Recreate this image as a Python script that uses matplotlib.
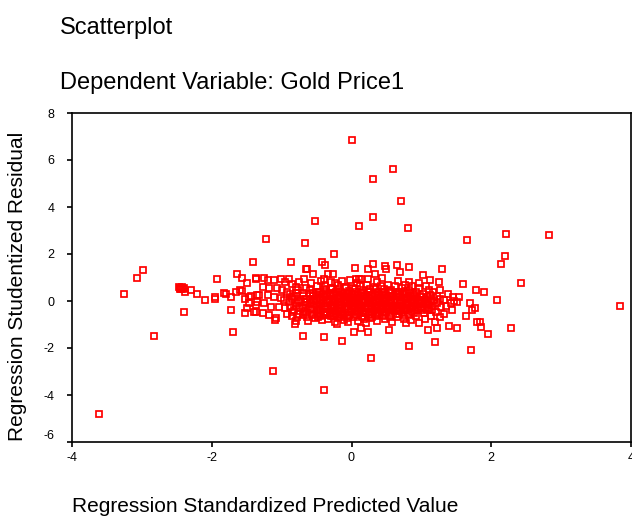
import matplotlib
matplotlib.use("Agg")
import matplotlib.pyplot as plt
import numpy as np

plt.rcParams['font.family'] = ['Liberation Sans', 'DejaVu Sans']
plt.rcParams['axes.unicode_minus'] = False

title_main = "Scatterplot"
title_sub = "Dependent Variable: Gold Price1"
x_label = "Regression Standardized Predicted Value"
y_label = "Regression Studentized Residual"
x_ticks = [-4, -2, 0, 2, 4]
y_ticks = [-6, -4, -2, 0, 2, 4, 6, 8]

# ---- left tail (predicted, residual) ----
left_pred = [-3.61, -3.25, -3.07, -2.99, -2.82, -2.47, -2.45, -2.43, -2.41, -2.44, -2.39, -2.46,
             -2.38, -2.30, -2.21, -2.10, -2.39, -1.96, -1.96, -1.93, -1.83, -1.79, -1.72, -1.64,
             -1.66, -1.73, -1.70, -1.56, -1.50, -1.59, -1.56, -1.53, -1.47, -1.46, -1.44, -1.50,
             -1.53, -1.41, -1.37, -1.37, -1.39, -1.35, -1.23, -1.13]
left_resid = [-4.82, 0.30, 0.96, 1.34, -1.48, 0.60, 0.55, 0.58, 0.52, 0.50, 0.56, 0.52,
              0.37, 0.47, 0.30, 0.04, -0.47, 0.19, 0.08, 0.93, 0.33, 0.30, 0.19, 1.13,
              0.40, -0.38, -1.31, 0.96, 0.75, 0.47, 0.44, 0.10, -0.10, 0.18, 0.23, -0.30,
              -0.50, 1.65, 0.93, -0.17, -0.48, 0.25, 2.65, -2.96]

# ---- upper outliers ----
upper_pred = [0.00, 0.59, 0.31, 0.71, 0.31, 0.11, 0.81, -0.52, -0.67, -0.25, 1.65, 2.21,
              2.83, 2.20, 2.14, -0.87, -0.42, -0.38, -0.65, 0.31, 0.65, 0.82, 0.48, 0.05,
              1.30, 0.24, 0.33, -0.64, -0.55, -0.33, -0.26, 0.49, 0.69, 1.03, 1.12, 0.96,
              0.82, 1.25, 1.59, 2.43, -0.40, -0.24, 0.06, 0.11]
upper_resid = [6.87, 5.61, 5.19, 4.27, 3.59, 3.21, 3.09, 3.42, 2.48, 1.99, 2.58, 2.83,
               2.79, 1.90, 1.56, 1.65, 1.67, 1.55, 1.38, 1.59, 1.52, 1.44, 1.47, 1.41,
               1.38, 1.35, 1.17, 1.35, 1.13, 1.14, 1.14, 1.38, 1.24, 1.10, 0.89, 0.78,
               0.82, 0.82, 0.72, 0.75, 0.93, 0.75, 0.93, 0.93]

# ---- lower outliers and right tail ----
lower_pred = [-0.40, -0.70, -0.40, -0.13, -0.81, 0.28, -0.21, 0.04, 0.24, 0.13, 1.71, 1.19,
              0.82, 0.54, 1.39, 1.23, 1.10, 1.51, 1.80, 1.84, 1.86, 1.95, 2.28, 3.84,
              2.08, 1.78, 1.89, 1.45, 1.54, 1.51, 1.69, 1.77, 1.73, 1.64, 1.11, 1.26]
lower_resid = [-3.78, -1.48, -1.53, -1.72, -0.97, -2.42, -0.98, -1.32, -1.32, -1.15, -2.07, -1.75,
               -1.90, -1.23, -1.08, -1.15, -1.23, -1.14, -0.91, -0.91, -1.11, -1.41, -1.15, -0.21,
               0.04, 0.47, 0.37, 0.19, 0.19, -0.06, -0.10, -0.31, -0.38, -0.62, 0.47, 0.47]

# ---- left part of the main cloud ----
cloud_left_pred = [-1.37, -1.25, -1.20, -1.11, -1.01, -1.27, -1.18, -1.06, -0.99, -1.32, -1.20,
                   -1.11, -1.01, -1.35, -1.25, -1.15, -1.04, -1.37, -1.27, -1.18, -1.08, -1.10,
                   -0.95, -0.90, -0.85, -0.80, -0.93, -0.88, -0.82, -0.76, -0.70, -0.65, -0.60,
                   -0.55, -0.97, -0.90, -0.85, -0.78, -0.72, -0.66, -0.60, -0.54, -0.95, -0.88,
                   -0.82, -0.75, -0.68, -0.62, -0.56, -0.93, -0.85, -0.78, -0.70, -0.63, -0.57,
                   -0.52, -0.75, -0.68, -0.58, -0.62, -0.80]
cloud_left_resid = [0.96, 0.99, 0.89, 0.89, 0.93, 0.61, 0.54, 0.54, 0.47, 0.25, 0.25,
                    0.19, 0.11, -0.03, -0.10, -0.24, -0.24, -0.45, -0.52, -0.59, -0.73, -0.80,
                    0.80, 0.95, 0.72, 0.60, 0.40, 0.30, 0.20, 0.45, 0.35, 0.55, 0.30,
                    0.20, 0.05, -0.05, 0.10, -0.10, 0.05, -0.05, 0.10, -0.02, -0.30, -0.25,
                    -0.40, -0.30, -0.45, -0.25, -0.40, -0.55, -0.62, -0.70, -0.60, -0.68, -0.55,
                    -0.72, 0.80, 0.95, 0.75, -0.85, -0.85]

# ---- centre of the main cloud ----
cloud_mid_pred = [-0.50, -0.48, -0.47, -0.49, -0.46, -0.50, -0.45, -0.48, -0.44, -0.42, -0.41, -0.43, -0.40, -0.42,
                  -0.38, -0.37, -0.36, -0.35, -0.38, -0.34, -0.37, -0.33, -0.31, -0.32, -0.30, -0.31, -0.30,
                  -0.28, -0.27, -0.26, -0.28, -0.25, -0.27, -0.24, -0.22, -0.21, -0.23, -0.20, -0.22, -0.20,
                  -0.18, -0.17, -0.16, -0.18, -0.15, -0.17, -0.12, -0.11, -0.13, -0.10, -0.12, -0.14, -0.11,
                  -0.08, -0.07, -0.06, -0.08, -0.05, -0.07, -0.03, -0.02, -0.04, -0.01, -0.03, -0.02, -0.05,
                  0.02, 0.03, 0.04, 0.02, 0.05, 0.03, 0.07, 0.08, 0.06, 0.09, 0.07, 0.08, 0.09,
                  0.12, 0.13, 0.11, 0.14, 0.12, 0.15, 0.17, 0.18, 0.16, 0.19, 0.17, 0.18, 0.14,
                  0.22, 0.23, 0.21, 0.24, 0.22, 0.25, 0.27, 0.28, 0.26, 0.29, 0.27, 0.28, 0.24, 0.21,
                  0.32, 0.33, 0.31, 0.34, 0.32, 0.35, 0.37, 0.38, 0.36, 0.39, 0.37, 0.38, 0.36,
                  0.42, 0.43, 0.41, 0.44, 0.42, 0.45, 0.47, 0.48, 0.46, 0.49, 0.47, 0.48, 0.44]
cloud_mid_resid = [0.62, 0.40, 0.18, -0.05, -0.22, -0.38, -0.55, -0.70, 0.85, 0.30, 0.05, -0.12, -0.45, -0.82,
                   0.65, 0.45, 0.20, -0.02, -0.20, -0.35, -0.60, -0.75, 0.35, 0.10, -0.15, -0.50, 0.80,
                   0.55, 0.25, 0.00, -0.25, -0.42, -0.65, -0.88, 0.40, 0.12, -0.10, -0.30, -0.55, 0.70,
                   0.50, 0.22, -0.05, -0.20, -0.45, -0.70, 0.35, 0.05, -0.15, -0.35, -0.60, 0.85, -0.82,
                   0.60, 0.25, 0.00, -0.25, -0.48, -0.72, 0.42, 0.10, -0.12, -0.32, -0.58, 0.90, -0.90,
                   0.55, 0.28, 0.02, -0.22, -0.42, -0.68, 0.40, 0.12, -0.10, -0.30, -0.55, 0.78, -0.85,
                   0.62, 0.35, 0.08, -0.18, -0.40, -0.62, 0.45, 0.20, -0.05, -0.28, -0.50, -0.78, 0.92,
                   0.70, 0.38, 0.15, -0.08, -0.30, -0.55, 0.52, 0.25, 0.00, -0.20, -0.45, -0.72, 0.95, -0.92,
                   0.60, 0.30, 0.05, -0.15, -0.38, -0.62, 0.82, 0.40, 0.15, -0.05, -0.28, -0.52, -0.85,
                   0.65, 0.35, 0.10, -0.12, -0.35, -0.58, 0.50, 0.22, -0.02, -0.25, -0.48, -0.78, 1.00]

# ---- right part of the main cloud ----
cloud_right_pred = [0.52, 0.53, 0.51, 0.54, 0.52, 0.55, 0.57, 0.58, 0.56, 0.59, 0.57, 0.58,
                    0.62, 0.63, 0.61, 0.64, 0.62, 0.65, 0.67, 0.68, 0.66, 0.69, 0.67, 0.68,
                    0.72, 0.73, 0.71, 0.74, 0.72, 0.75, 0.77, 0.78, 0.76, 0.79, 0.77, 0.78,
                    0.82, 0.83, 0.81, 0.84, 0.82, 0.87, 0.88, 0.86, 0.89, 0.87, 0.85,
                    0.92, 0.93, 0.91, 0.94, 0.92, 0.97, 0.98, 0.96, 0.99, 0.97,
                    1.02, 1.03, 1.01, 1.04, 1.07, 1.08, 1.06, 1.09, 1.05,
                    1.12, 1.13, 1.11, 1.14, 1.17, 1.18, 1.16, 1.19,
                    1.22, 1.23, 1.21, 1.27, 1.28, 1.26,
                    1.32, 1.35, 1.33, 1.38, 1.42, 1.44, 1.47]
cloud_right_resid = [0.70, 0.38, 0.12, -0.10, -0.32, -0.60, 0.48, 0.20, -0.05, -0.28, -0.50, -0.90,
                     0.62, 0.30, 0.05, -0.18, -0.42, -0.70, 0.85, 0.40, 0.15, -0.08, -0.30, -0.55,
                     0.55, 0.25, 0.00, -0.22, -0.48, -0.75, 0.70, 0.35, 0.10, -0.15, -0.38, -0.95,
                     0.45, 0.18, -0.08, -0.30, -0.58, 0.62, 0.28, 0.02, -0.20, -0.45, -0.80,
                     0.40, 0.10, -0.15, -0.38, -0.65, 0.55, 0.20, -0.05, -0.28, -0.95,
                     0.30, 0.00, -0.25, -0.50, 0.65, 0.15, -0.12, -0.40, -0.75,
                     0.25, -0.05, -0.30, -0.62, 0.40, 0.05, -0.20, -0.90,
                     0.20, -0.10, -0.45, 0.10, -0.25, -0.70,
                     0.05, -0.20, -0.56, 0.30, -0.10, -0.40, 0.00]

# ---- dense core of the cloud (overlapping points) ----
core_pred = [-0.85, -0.85, -0.80, -0.80, -0.75, -0.75, -0.70, -0.70, -0.65, -0.65, -0.65,
             -0.60, -0.60, -0.60, -0.55, -0.55, -0.55, -0.50, -0.50, -0.50, -0.50,
             -0.45, -0.45, -0.45, -0.45, -0.40, -0.40, -0.40, -0.40, -0.35, -0.35, -0.35, -0.35,
             -0.30, -0.30, -0.30, -0.30, -0.25, -0.25, -0.25, -0.25, -0.20, -0.20, -0.20, -0.20,
             -0.15, -0.15, -0.15, -0.15, -0.10, -0.10, -0.10, -0.10, -0.05, -0.05, -0.05, -0.05,
             0.00, 0.00, 0.00, 0.00, 0.05, 0.05, 0.05, 0.05, 0.10, 0.10, 0.10, 0.10,
             0.15, 0.15, 0.15, 0.15, 0.20, 0.20, 0.20, 0.20, 0.25, 0.25, 0.25, 0.25,
             0.30, 0.30, 0.30, 0.30, 0.35, 0.35, 0.35, 0.35, 0.40, 0.40, 0.40, 0.40,
             0.45, 0.45, 0.45, 0.45, 0.50, 0.50, 0.50, 0.50, 0.55, 0.55, 0.55, 0.55,
             0.60, 0.60, 0.60, 0.65, 0.65, 0.65, 0.65, 0.70, 0.70, 0.70,
             0.75, 0.75, 0.75, 0.75, 0.80, 0.80, 0.80, 0.85, 0.85, 0.85,
             0.90, 0.90, 0.90, 0.95, 0.95, 1.00, 1.00, 1.00, 1.05, 1.05, 1.10, 1.10, 1.15, 1.15]
core_resid = [0.15, -0.45, -0.20, 0.35, 0.00, -0.55, 0.20, -0.30, -0.15, 0.10, -0.50,
              0.45, -0.35, -0.10, 0.05, -0.60, 0.35, 0.25, -0.15, -0.50, 0.05,
              0.40, -0.35, 0.10, -0.65, 0.15, -0.25, 0.50, -0.60, 0.30, -0.45, 0.05, -0.10,
              -0.30, 0.20, -0.65, 0.50, 0.10, -0.20, -0.55, 0.35, -0.05, 0.25, -0.40, -0.70,
              0.10, -0.30, 0.40, -0.58, -0.10, 0.20, -0.50, 0.55, 0.15, -0.35, -0.65, 0.35,
              -0.05, 0.30, -0.45, -0.20, 0.15, -0.30, 0.50, -0.60, -0.15, 0.25, -0.45, 0.00,
              0.05, -0.30, 0.35, -0.70, -0.20, 0.25, -0.45, 0.00, 0.10, -0.35, 0.40, -0.60,
              -0.10, 0.20, -0.45, -0.70, 0.00, -0.30, 0.50, -0.55, 0.25, -0.20, -0.45, 0.00,
              0.10, -0.35, 0.40, -0.65, -0.15, 0.25, -0.45, 0.00, 0.05, -0.30, 0.35, -0.70,
              -0.20, 0.20, -0.40, 0.05, -0.30, 0.30, -0.55, -0.10, 0.20, -0.40,
              0.05, -0.30, 0.40, -0.60, -0.15, 0.15, -0.40, 0.00, -0.30, 0.35,
              -0.10, 0.20, -0.50, 0.05, -0.30, -0.10, 0.15, -0.40, 0.05, -0.30, -0.15, 0.10, 0.00, -0.40]

pred = np.array(left_pred + upper_pred + lower_pred + cloud_left_pred + cloud_mid_pred
                + cloud_right_pred + core_pred)
resid = np.array(left_resid + upper_resid + lower_resid + cloud_left_resid + cloud_mid_resid
                 + cloud_right_resid + core_resid)

W, H = 632, 516
fig = plt.figure(figsize=(W / 100, H / 100), dpi=100)
ax = fig.add_axes([72 / W, 1 - 442 / H, (631 - 72) / W, (442 - 113) / H])

ax.plot(pred, resid, linestyle='none', marker='s', markersize=4.0,
        markerfacecolor='none', markeredgecolor='#ff0000', markeredgewidth=1.25,
        clip_on=False)

ax.set_xlim(-4, 4)
ax.set_ylim(-6, 8)
ax.set_xticks(x_ticks)
ax.set_yticks(y_ticks)
ax.set_xticklabels([str(t) for t in x_ticks])
ax.set_yticklabels([str(t) for t in y_ticks])
for s in ax.spines.values():
    s.set_linewidth(1.2)
    s.set_color('black')
ax.tick_params(direction='out', length=3.5, width=1.2, labelsize=9, colors='black')
ax.tick_params(axis='y', pad=9)
ax.tick_params(axis='x', pad=4)
ylabs = ax.get_yticklabels()
ylabs[0].set_verticalalignment('bottom')

fig.text(60 / W, 1 - 34 / H, title_main, fontsize=17, ha='left', va='baseline')
fig.text(60 / W, 1 - 89 / H, title_sub, fontsize=17, ha='left', va='baseline')
fig.text(72 / W, 1 - 512 / H, x_label, fontsize=15, ha='left', va='baseline')
fig.text(18 / W, 1 - 286 / H, y_label, fontsize=15, ha='center', va='center', rotation=90)

fig.savefig("out.png", dpi=100)
